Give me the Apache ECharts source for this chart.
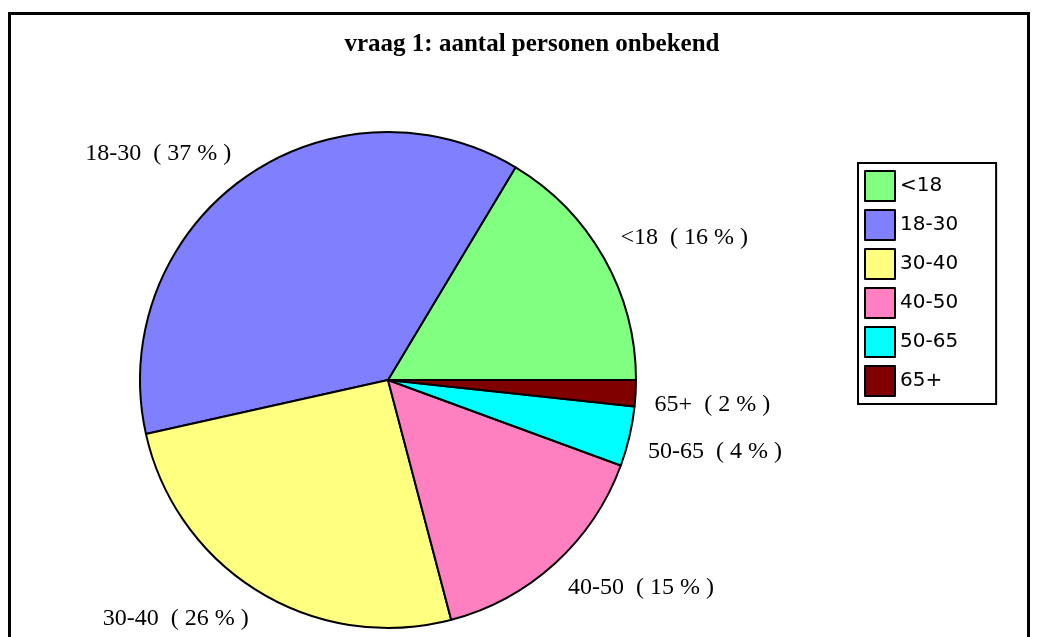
<!DOCTYPE html>
<html>
<head>
<meta charset="utf-8">
<title>vraag 1</title>
<script src="https://cdn.jsdelivr.net/npm/echarts@6/dist/echarts.min.js"></script>
<style>
  html, body { margin: 0; padding: 0; background: #fff; }
  .frame {
    position: absolute; left: 8px; top: 12px; width: 1016px; height: 700px;
    border: 3px solid #000; border-bottom: none;
  }
  #chart { position: absolute; left: 0; top: 0; width: 1039px; height: 637px; }
</style>
</head>
<body>
<div class="frame"></div>
<div id="chart"></div>
<script>
  // leeftijdsgroepen en aandelen (procent)
  var groups = ['<18', '18-30', '30-40', '40-50', '50-65', '65+'];
  var shares = [16.4, 37.1, 25.6, 15.3, 3.9, 1.7];
  var colors = ['#80ff80', '#8080ff', '#ffff80', '#ff80c0', '#00ffff', '#800000'];
  var titleText = 'vraag 1: aantal personen onbekend';

  var center = [388, 380];

  var chart = echarts.init(document.getElementById('chart'));
  chart.setOption({
    animation: false,
    title: {
      text: titleText,
      left: 532,
      top: 32,
      padding: 0,
      textAlign: 'center',
      textStyle: {
        fontFamily: 'Liberation Serif',
        fontWeight: 'bold',
        fontSize: 25,
        color: '#000'
      }
    },
    legend: {
      orient: 'vertical',
      left: 858,
      top: 163,
      padding: [7, 38, 7, 6],
      itemWidth: 30,
      itemHeight: 30,
      itemGap: 7,
      itemTextGap: 8,
      icon: 'rect',
      borderColor: '#000',
      borderWidth: 2,
      itemStyle: { borderColor: '#000', borderWidth: 2 },
      textStyle: { fontFamily: 'DejaVu Sans', fontSize: 20, color: '#000' },
      data: groups
    },
    series: [{
      type: 'pie',
      center: center,
      radius: 248,
      startAngle: 0,
      clockwise: false,
      avoidLabelOverlap: false,
      percentPrecision: 0,
      color: colors,
      itemStyle: { borderColor: '#000', borderWidth: 2 },
      emphasis: { disabled: true },
      label: {
        show: true,
        position: 'outside',
        formatter: '{b}  ( {d} % )',
        fontFamily: 'Liberation Serif',
        fontSize: 24,
        lineHeight: 22,
        color: '#000',
        distanceToLabelLine: 1
      },
      labelLine: { show: false, length: 18, length2: 0 },
      // hoek van het label: boven het midden onderkant, eronder bovenkant
      labelLayout: function (p) {
        var r = p.labelRect;
        var above = (r.y + r.height / 2) < center[1];
        return { verticalAlign: above ? 'bottom' : 'top' };
      },
      data: groups.map(function (g, i) {
        return { name: g, value: shares[i] };
      })
    }]
  });
</script>
</body>
</html>
